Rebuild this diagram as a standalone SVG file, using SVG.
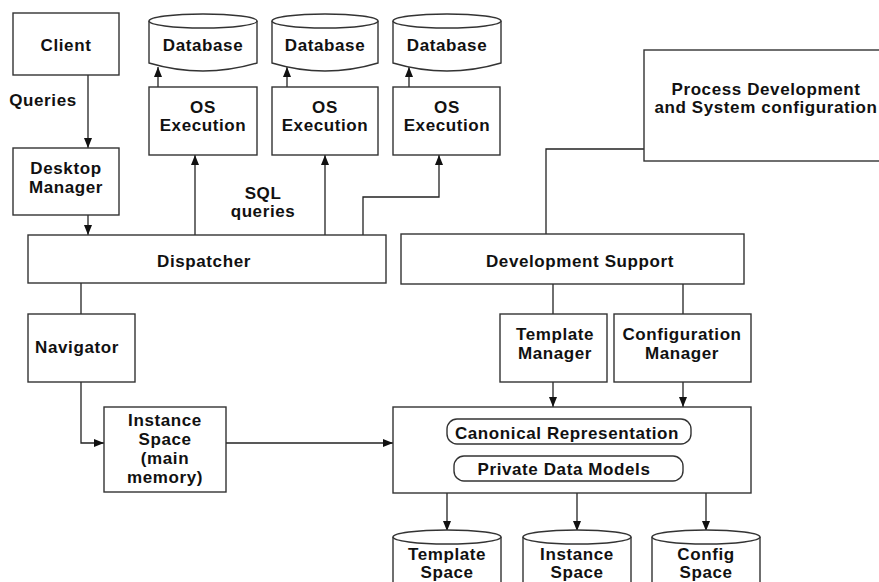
<svg xmlns="http://www.w3.org/2000/svg" width="879" height="582" viewBox="0 0 879 582">
<defs>
<style>
.b{fill:#fff;stroke:#333;stroke-width:1.4}
.c{fill:none;stroke:#222;stroke-width:1.3}
.a{marker-end:url(#ar)}
text{font-family:"Liberation Sans",Arial,sans-serif;font-weight:bold;font-size:17px;letter-spacing:0.6px;text-anchor:middle;fill:#111}
</style>
<marker id="ar" viewBox="0 0 10 8" refX="10" refY="4" markerWidth="10" markerHeight="8" markerUnits="userSpaceOnUse" orient="auto">
<path d="M0,0 L10,4 L0,8 Z" fill="#111"/>
</marker>
</defs>
<rect width="879" height="582" fill="#fff"/>

<g id="connectors">
<path class="c a" d="M88,75 V148"/>
<path class="c a" d="M88,215 V235"/>
<path class="c a" d="M195,235 V155"/>
<path class="c a" d="M325,235 V155"/>
<path class="c a" d="M363,235 V197 H439 V155"/>
<path class="c a" d="M158,87 V67"/>
<path class="c a" d="M287,87 V67"/>
<path class="c a" d="M409,87 V67"/>
<path class="c" d="M644,149 H546 V234"/>
<path class="c" d="M81,283 V314"/>
<path class="c a" d="M81,382 V443 H104"/>
<path class="c a" d="M226,443 H393"/>
<path class="c" d="M553,284 V314"/>
<path class="c" d="M683,284 V314"/>
<path class="c a" d="M553,382 V407"/>
<path class="c a" d="M683,382 V407"/>
<path class="c" d="M569,444 V456"/>
<path class="c a" d="M447,493 V531"/>
<path class="c a" d="M577,493 V531"/>
<path class="c a" d="M706,493 V531"/>
</g>

<g id="client"><rect class="b" x="13" y="13" width="106" height="62"/><text x="66" y="51">Client</text></g>
<g id="queries-label"><text x="43" y="106">Queries</text></g>
<g id="desktop"><rect class="b" x="13" y="148" width="106" height="67"/><text x="66" y="174">Desktop</text><text x="66" y="193">Manager</text></g>
<g id="dispatcher"><rect class="b" x="28" y="235" width="358" height="48"/><text x="204" y="267">Dispatcher</text></g>
<g id="navigator"><rect class="b" x="28" y="314" width="107" height="68"/><text x="77" y="353">Navigator</text></g>
<g id="instance-space"><rect class="b" x="104" y="407" width="122" height="85"/><text x="165" y="426">Instance</text><text x="165" y="445">Space</text><text x="165" y="464">(main</text><text x="165" y="483">memory)</text></g>
<g id="sql-label"><text x="263" y="199">SQL</text><text x="263" y="217">queries</text></g>

<g id="os1"><rect class="b" x="149" y="87" width="108" height="68"/><text x="203" y="113">OS</text><text x="203" y="131">Execution</text></g>
<g id="os2"><rect class="b" x="272" y="87" width="106" height="68"/><text x="325" y="113">OS</text><text x="325" y="131">Execution</text></g>
<g id="os3"><rect class="b" x="393" y="87" width="107" height="68"/><text x="447" y="113">OS</text><text x="447" y="131">Execution</text></g>

<g id="db1"><path class="b" d="M149,21 L149,63 Q203,79 257,63 L257,21"/><ellipse class="b" cx="203" cy="21" rx="54" ry="7"/><text x="203" y="51">Database</text></g>
<g id="db2"><path class="b" d="M272,21 L272,63 Q325,79 378,63 L378,21"/><ellipse class="b" cx="325" cy="21" rx="53" ry="7"/><text x="325" y="51">Database</text></g>
<g id="db3"><path class="b" d="M393,21 L393,63 Q447,79 501,63 L501,21"/><ellipse class="b" cx="447" cy="21" rx="54" ry="7"/><text x="447" y="51">Database</text></g>

<g id="process"><rect class="b" x="644" y="50" width="250" height="111"/><text x="766" y="95">Process Development</text><text x="766" y="113">and System configuration</text></g>
<g id="devsupport"><rect class="b" x="401" y="234" width="343" height="50"/><text x="580" y="267">Development Support</text></g>
<g id="template-manager"><rect class="b" x="500" y="314" width="107" height="68"/><text x="555" y="340">Template</text><text x="555" y="359">Manager</text></g>
<g id="config-manager"><rect class="b" x="614" y="314" width="137" height="68"/><text x="682" y="340">Configuration</text><text x="682" y="359">Manager</text></g>
<g id="core"><rect class="b" x="393" y="407" width="358" height="86"/>
<rect class="b" x="447" y="419" width="244" height="25" rx="10"/><text x="567" y="439">Canonical Representation</text>
<rect class="b" x="454" y="456" width="229" height="25" rx="10"/><text x="564" y="475">Private Data Models</text></g>

<g id="template-space"><path class="b" d="M393,537 L393,592 L501,592 L501,537"/><ellipse class="b" cx="447" cy="537" rx="54" ry="7"/><text x="447" y="560">Template</text><text x="447" y="578">Space</text></g>
<g id="instance-store"><path class="b" d="M523,537 L523,592 L631,592 L631,537"/><ellipse class="b" cx="577" cy="537" rx="54" ry="7"/><text x="577" y="560">Instance</text><text x="577" y="578">Space</text></g>
<g id="config-space"><path class="b" d="M652,537 L652,592 L760,592 L760,537"/><ellipse class="b" cx="706" cy="537" rx="54" ry="7"/><text x="706" y="560">Config</text><text x="706" y="578">Space</text></g>
</svg>
